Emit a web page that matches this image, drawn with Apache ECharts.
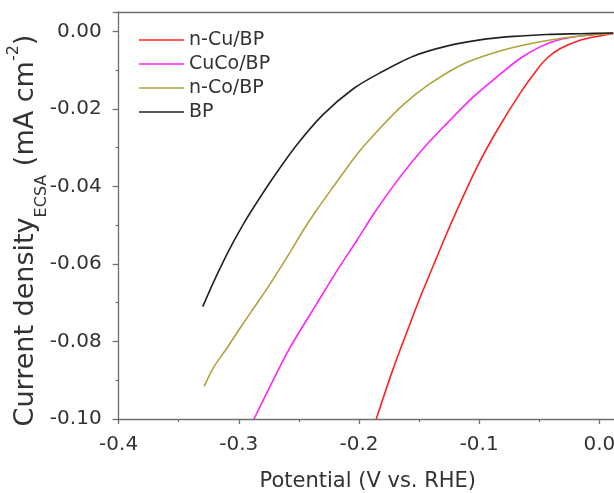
<!DOCTYPE html>
<html>
<head>
<meta charset="utf-8">
<script src="https://cdn.jsdelivr.net/npm/echarts@6/dist/echarts.min.js"></script>
<style>
    html, body { margin: 0; padding: 0; background: #fff; }
    #chart { width: 614px; height: 493px; }
</style>
</head>
<body>
<div id="chart"></div>
<script>
// LSV curves, potential (V vs RHE) and current density (mA cm-2)
var seriesNames = ['n-Cu/BP', 'CuCo/BP', 'n-Co/BP', 'BP'];
var seriesColors = ['#ff2222', '#ff22ff', '#aea43a', '#222222'];

var cuV = [-0.1856, -0.1715, -0.1576, -0.1493, -0.1354, -0.1229, -0.1021, -0.0854, -0.0660, -0.0522, -0.0438, -0.0328, -0.0161, -0.0022, 0.0116];
var cuJ = [-0.100, -0.0870, -0.0755, -0.0688, -0.0584, -0.0492, -0.0352, -0.0257, -0.0160, -0.0100, -0.0070, -0.0045, -0.0023, -0.0013, -0.0006];

var cucoV = [-0.2874, -0.2740, -0.2574, -0.2352, -0.2186, -0.2019, -0.1867, -0.1659, -0.1465, -0.1270, -0.1049, -0.0854, -0.0660, -0.0494, -0.0328, -0.0106, 0.0116];
var cucoJ = [-0.100, -0.0916, -0.0816, -0.0703, -0.0619, -0.0540, -0.0466, -0.0376, -0.0302, -0.0238, -0.0169, -0.0118, -0.0070, -0.0040, -0.0021, -0.0010, -0.0004];

var coV = [-0.3288, -0.3212, -0.3101, -0.2990, -0.2838, -0.2740, -0.2574, -0.2463, -0.2352, -0.2214, -0.2019, -0.1825, -0.1631, -0.1409, -0.1132, -0.0854, -0.0577, -0.0300, -0.0022, 0.0116];
var coJ = [-0.0916, -0.0868, -0.0818, -0.0766, -0.0697, -0.0652, -0.0570, -0.0513, -0.0461, -0.0401, -0.0318, -0.0250, -0.0189, -0.0135, -0.0084, -0.0053, -0.0032, -0.0017, -0.0008, -0.0006];

var bpV = [-0.3300, -0.3212, -0.3129, -0.3046, -0.2963, -0.2893, -0.2713, -0.2518, -0.2297, -0.2047, -0.1825, -0.1548, -0.1270, -0.0993, -0.0716, -0.0438, -0.0161, 0.0116];
var bpJ = [-0.0710, -0.0648, -0.0594, -0.0544, -0.0498, -0.0462, -0.0377, -0.0293, -0.0214, -0.0148, -0.0107, -0.0064, -0.0038, -0.0022, -0.0013, -0.0008, -0.0006, -0.0004];

var xTicks = [-0.4, -0.3, -0.2, -0.1, 0.0];

function pairs(xs, ys) {
    return xs.map(function (x, i) { return [x, ys[i]]; });
}

var allV = [cuV, cucoV, coV, bpV];
var allJ = [cuJ, cucoJ, coJ, bpJ];

var axisGray = '#6e6e6e';
var font = 'DejaVu Sans';

var chart = echarts.init(document.getElementById('chart'));

var option = {
    backgroundColor: '#fff',
    animation: false,
    textStyle: { fontFamily: font },
    grid: { left: 118.6, right: -3, top: 12, bottom: 74, outerBoundsMode: 'none', containLabel: false },
    legend: {
        orient: 'vertical',
        left: 134,
        top: 25,
        icon: 'rect',
        itemWidth: 45,
        itemHeight: 1.6,
        itemGap: 4,
        textStyle: { fontFamily: font, fontSize: 19, color: '#333', lineHeight: 20 },
        data: seriesNames
    },
    xAxis: [{
        type: 'value',
        min: -0.4,
        max: 0.0147,
        interval: 0.1,
        name: 'Potential (V vs. RHE)',
        nameLocation: 'middle',
        nameGap: 52,
        nameMoveOverlap: false,
        nameTextStyle: { fontFamily: font, fontSize: 21, color: '#333' },
        axisLine: { show: true, onZero: false, lineStyle: { color: axisGray, width: 1.3 } },
        axisTick: { show: true, inside: false, length: 5, lineStyle: { color: axisGray, width: 1.3 } },
        minorTick: { show: true, splitNumber: 2, length: 3, lineStyle: { color: axisGray, width: 1.2 } },
        splitLine: { show: false },
        axisLabel: {
            fontFamily: font, fontSize: 20, color: '#333', margin: 16,
            showMaxLabel: false,
            formatter: function (v) {
                var t = xTicks.filter(function (k) { return Math.abs(k - v) < 1e-9; });
                return t.length ? v.toFixed(1) : '';
            }
        }
    }, {
        type: 'value',
        position: 'top',
        min: -0.4,
        max: 0.0147,
        axisLine: { show: true, onZero: false, lineStyle: { color: axisGray, width: 1.3 } },
        axisTick: { show: false },
        axisLabel: { show: false },
        splitLine: { show: false }
    }],
    yAxis: [{
        type: 'value',
        min: -0.1,
        max: 0.005,
        interval: 0.02,
        name: '{a|Current density}{s|ECSA}{a| (mA cm}{p|-2}{a|)}',
        nameLocation: 'middle',
        nameRotate: 90,
        nameGap: 76,
        nameMoveOverlap: false,
        nameTextStyle: {
            padding: [0, 30, 0, 0],
            rich: {
                a: { fontFamily: font, fontSize: 27, color: '#333', lineHeight: 34, verticalAlign: 'middle' },
                s: { fontFamily: font, fontSize: 16, color: '#333', lineHeight: 34, verticalAlign: 'bottom', padding: [0, 0, -7, 0] },
                p: { fontFamily: font, fontSize: 16, color: '#333', lineHeight: 34, verticalAlign: 'top', padding: [-3, 0, 0, 0] }
            }
        },
        axisLine: { show: true, onZero: false, lineStyle: { color: axisGray, width: 1.3 } },
        axisTick: { show: true, inside: false, length: 6, lineStyle: { color: axisGray, width: 1.3 } },
        minorTick: { show: true, splitNumber: 2, length: 3, lineStyle: { color: axisGray, width: 1.2 } },
        splitLine: { show: false },
        axisLabel: {
            fontFamily: font, fontSize: 20, color: '#333', margin: 17,
            showMaxLabel: false,
            formatter: function (v) { return v.toFixed(2); }
        }
    }, {
        type: 'value',
        position: 'right',
        min: -0.1,
        max: 0.005,
        axisLine: { show: true, onZero: false, lineStyle: { color: axisGray, width: 1.3 } },
        axisTick: { show: false },
        axisLabel: { show: false },
        splitLine: { show: false }
    }],
    series: seriesNames.map(function (name, i) {
        return {
            name: name,
            type: 'line',
            xAxisIndex: 0,
            yAxisIndex: 0,
            data: pairs(allV[i], allJ[i]),
            showSymbol: false,
            symbol: 'none',
            smooth: 0.3,
            lineStyle: { color: seriesColors[i], width: 1.6 },
            itemStyle: { color: seriesColors[i] },
            z: 2 + i
        };
    })
};

chart.setOption(option);
</script>
</body>
</html>
